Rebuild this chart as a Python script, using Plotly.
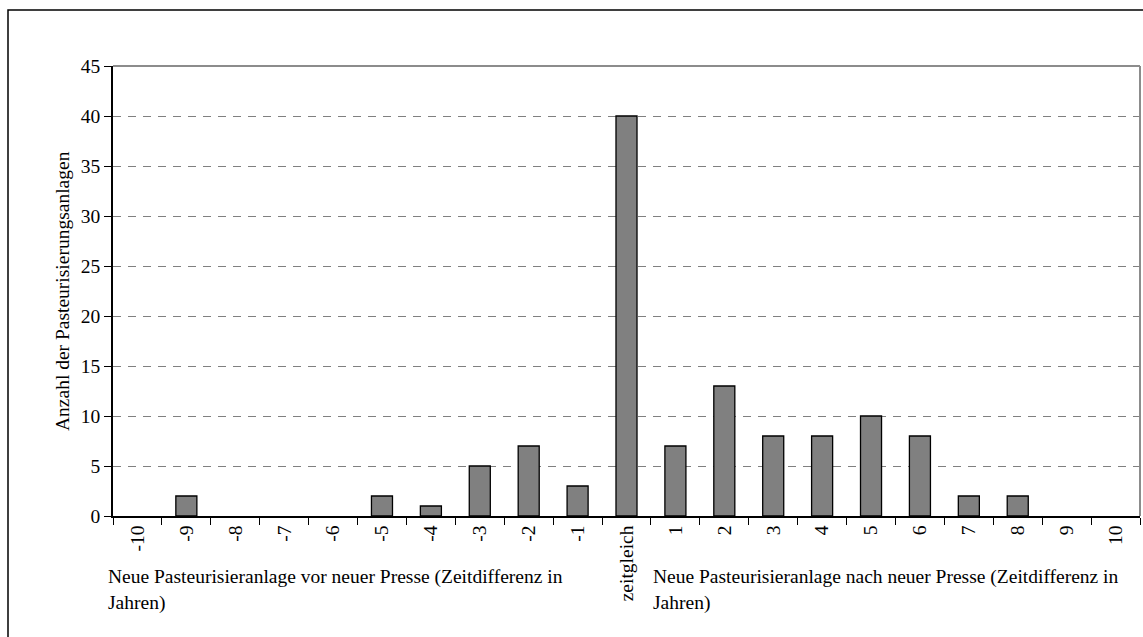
import plotly.graph_objects as go

categories = ["-10", "-9", "-8", "-7", "-6", "-5", "-4", "-3", "-2", "-1", "zeitgleich",
              "1", "2", "3", "4", "5", "6", "7", "8", "9", "10"]
values = [0, 2, 0, 0, 0, 2, 1, 5, 7, 3, 40, 7, 13, 8, 8, 10, 8, 2, 2, 0, 0]
y_ticks = [0, 5, 10, 15, 20, 25, 30, 35, 40, 45]
y_title = "Anzahl der Pasteurisierungsanlagen"
note_left = ["Neue Pasteurisieranlage vor neuer Presse (Zeitdifferenz in", "Jahren)"]
note_right = ["Neue Pasteurisieranlage nach neuer Presse (Zeitdifferenz in", "Jahren)"]

FONT = "Liberation Serif, Times New Roman, serif"
FS = 19.5
W, H = 1143, 637
L, R, T, B = 113, 3, 66, 121
pw, ph = W - L - R, H - T - B

def px_x(x):
    return (x - L) / pw

def px_y(y):
    return (H - B - y) / ph

line_widths = [1.3 if v > 0 else 0 for v in values]

fig = go.Figure(go.Bar(
    x=categories, y=values,
    marker=dict(color="#808080", line=dict(color="black", width=line_widths)),
    hoverinfo="x+y",
))

fig.update_layout(
    width=W, height=H,
    margin=dict(l=L, r=R, t=T, b=B),
    paper_bgcolor="white", plot_bgcolor="white",
    bargap=0.57,
    showlegend=False,
    font=dict(family=FONT, size=FS, color="black"),
)

fig.update_xaxes(
    type="category",
    tickangle=-90,
    tickson="boundaries",
    ticks="outside", ticklen=7, tickcolor="black", tickwidth=1,
    showline=True, linecolor="black", linewidth=1.5,
    showgrid=False,
    tickfont=dict(family=FONT, size=FS),
)

fig.update_yaxes(
    range=[0, 45],
    tickvals=y_ticks,
    ticks="outside", ticklen=7, tickcolor="black", tickwidth=1,
    showline=True, linecolor="black", linewidth=1.5,
    showgrid=True, gridcolor="#808080", griddash="8px,7px", gridwidth=1,
    zeroline=False,
    tickfont=dict(family=FONT, size=FS),
)

shapes = [
    dict(type="line", xref="paper", yref="paper", x0=0, x1=1, y0=1, y1=1,
         line=dict(color="#8c8c8c", width=2)),
    dict(type="line", xref="paper", yref="paper", x0=1, x1=1, y0=0, y1=1,
         line=dict(color="#8c8c8c", width=2)),
    dict(type="rect", xref="paper", yref="paper",
         x0=px_x(8), x1=px_x(1160), y0=px_y(660), y1=px_y(10),
         line=dict(color="black", width=1.5), fillcolor="rgba(0,0,0,0)", layer="below"),
]
fig.update_layout(shapes=shapes)

annotations = [
    dict(text=y_title, xref="paper", yref="paper", x=px_x(62), y=0.5,
         textangle=-90, showarrow=False, xanchor="center", yanchor="middle",
         font=dict(family=FONT, size=FS)),
]
for i, line in enumerate(note_left):
    annotations.append(dict(text=line, xref="paper", yref="paper",
                            x=px_x(106), y=px_y(577 + 26 * i),
                            xanchor="left", yanchor="middle", showarrow=False,
                            font=dict(family=FONT, size=FS)))
for i, line in enumerate(note_right):
    annotations.append(dict(text=line, xref="paper", yref="paper",
                            x=px_x(651), y=px_y(577 + 26 * i),
                            xanchor="left", yanchor="middle", showarrow=False,
                            font=dict(family=FONT, size=FS)))
fig.update_layout(annotations=annotations)

fig.write_html("out.html",
               config={"displayModeBar": False},
               post_script="document.body.style.margin='0';document.body.style.overflow='hidden';")
